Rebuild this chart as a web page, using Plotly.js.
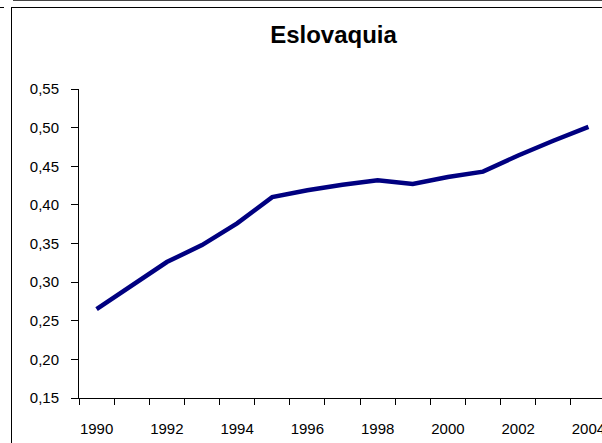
<!DOCTYPE html>
<html>
<head>
<meta charset="utf-8">
<script src="https://cdn.plot.ly/plotly-3.0.1.min.js"></script>
<style>
  html, body { margin: 0; padding: 0; background: #fff; overflow: hidden; width: 602px; height: 443px; }
  #topline { position: absolute; left: 13px; top: 0; width: 700px; height: 1px; background: #444; }
  #stub { position: absolute; left: 0; top: 7px; width: 4px; height: 1px; background: #000; }
  #frame { position: absolute; left: 11px; top: 7px; width: 800px; height: 600px; border: 1px solid #000; }
  #chart { position: absolute; left: 0; top: 0; }
</style>
</head>
<body>
<div id="topline"></div>
<div id="stub"></div>
<div id="frame"></div>
<div id="chart"></div>
<script>
const years = [1990, 1991, 1992, 1993, 1994, 1995, 1996, 1997, 1998, 1999, 2000, 2001, 2002, 2003, 2004];
const values = [0.265, 0.295, 0.326, 0.348, 0.376, 0.410, 0.419, 0.426, 0.432, 0.427, 0.436, 0.443, 0.464, 0.483, 0.501];
const labelYears = [1990, 1992, 1994, 1996, 1998, 2000, 2002, 2004];
const labelText = ['1990', '1992', '1994', '1996', '1998', '2000', '2002', '2004'];
const boundaries = [1989.5, 1990.5, 1991.5, 1992.5, 1993.5, 1994.5, 1995.5, 1996.5, 1997.5, 1998.5, 1999.5, 2000.5, 2001.5, 2002.5, 2003.5, 2004.5];
const titleText = 'Eslovaquia';

const xr = [1989.5, 2004.5];

const trace = {
  x: years,
  y: values,
  type: 'scatter',
  mode: 'lines',
  line: { color: '#000080', width: 4.5 },
  hoverinfo: 'skip'
};

const layout = {
  width: 610,
  height: 443,
  margin: { l: 79, r: 4, t: 89, b: 45 },
  paper_bgcolor: 'rgba(0,0,0,0)',
  plot_bgcolor: 'rgba(0,0,0,0)',
  separators: ',.',
  showlegend: false,
  font: { family: 'Liberation Sans, Arial, sans-serif', size: 15, color: '#000' },
  title: {
    text: '<b>' + titleText + '</b>',
    font: { family: 'Liberation Sans, Arial, sans-serif', size: 24, color: '#000' },
    xref: 'container', x: 333.5 / 610, xanchor: 'center',
    yref: 'container', y: 1 - 26.2 / 443, yanchor: 'top'
  },
  xaxis: {
    range: xr,
    tickmode: 'array',
    tickvals: labelYears,
    ticktext: labelText,
    ticks: '',
    ticklabelstandoff: 17,
    showline: true, linecolor: '#000', linewidth: 1,
    showgrid: false, zeroline: false,
    fixedrange: true
  },
  xaxis2: {
    range: xr,
    overlaying: 'x',
    anchor: 'y',
    side: 'bottom',
    tickmode: 'array',
    tickvals: boundaries,
    ticks: 'outside', ticklen: 6, tickwidth: 1, tickcolor: '#000',
    showticklabels: false,
    showline: false, showgrid: false, zeroline: false,
    fixedrange: true
  },
  yaxis: {
    range: [0.15, 0.55],
    tickmode: 'linear', tick0: 0.15, dtick: 0.05,
    tickformat: '.2f',
    ticks: 'outside', ticklen: 7, tickwidth: 1, tickcolor: '#000',
    ticklabelstandoff: 9,
    showline: true, linecolor: '#000', linewidth: 1,
    showgrid: false, zeroline: false,
    fixedrange: true
  }
};

Plotly.newPlot('chart', [trace, { x: [], y: [], xaxis: 'x2', type: 'scatter', hoverinfo: 'skip' }], layout, { staticPlot: true, displayModeBar: false });
</script>
</body>
</html>
